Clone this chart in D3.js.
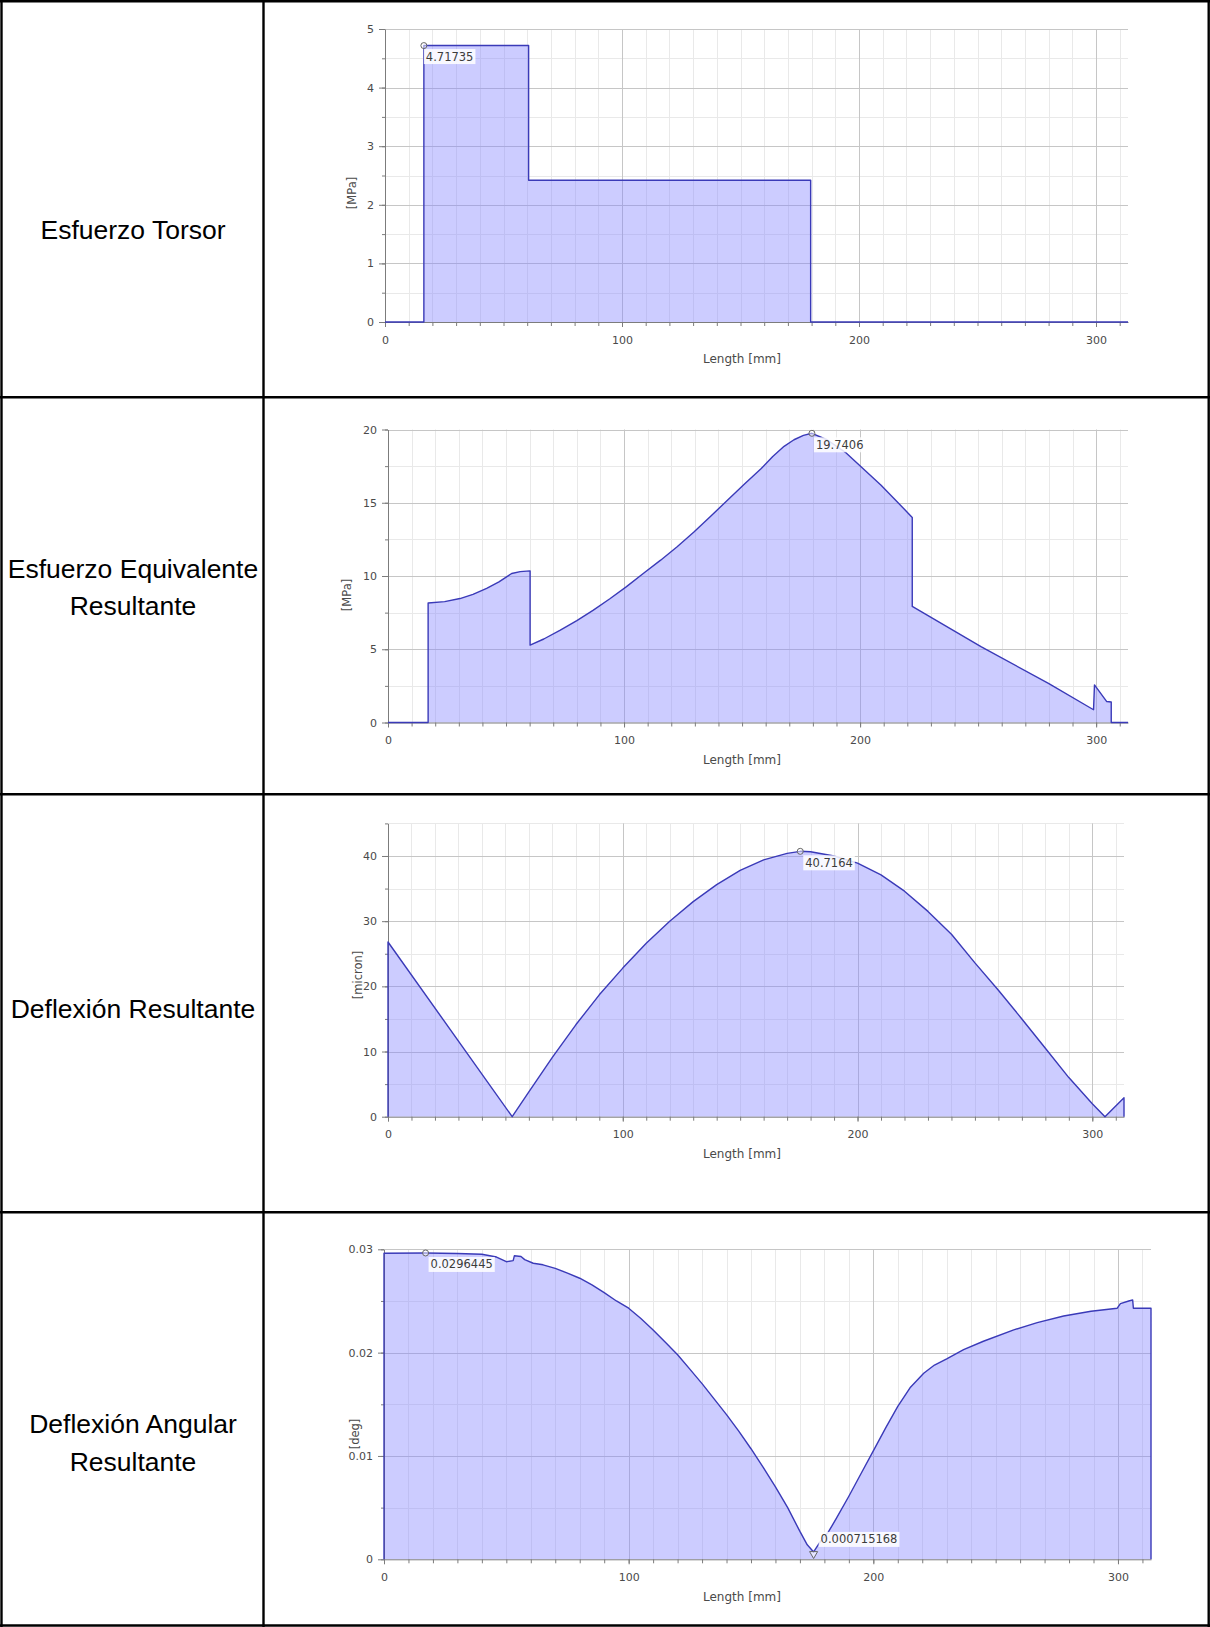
<!DOCTYPE html>
<html>
<head>
<meta charset="utf-8">
<script src="https://cdn.jsdelivr.net/npm/d3@7"></script>
<style>
  html, body { margin: 0; padding: 0; background: #fff; }
  svg { display: block; }
</style>
</head>
<body>
<svg id="c" width="1210" height="1627"></svg>
<script>
// ---------------- DATA ----------------
const rowLabels = [
  ["Esfuerzo Torsor"],
  ["Esfuerzo Equivalente", "Resultante"],
  ["Deflexión Resultante"],
  ["Deflexión Angular", "Resultante"]
];

const X_MAX = 313.5;
const xTicks = [0, 100, 200, 300];
const xTickLabels = ["0", "100", "200", "300"];
const xTitle = "Length [mm]";

// 1) Esfuerzo Torsor [MPa]
const torsorX = [0, 16.4, 16.4, 60.6, 60.6, 179.6, 179.6, 313.5];
const torsorY = [0, 0, 4.71735, 4.71735, 2.42, 2.42, 0, 0];
const torsorTicks = [0, 1, 2, 3, 4, 5];
const torsorTickLabels = ["0", "1", "2", "3", "4", "5"];
const torsorMarks = [{ x: 16.4, y: 4.71735, label: "4.71735", kind: "max" }];

// 2) Esfuerzo Equivalente Resultante [MPa]
const equivX = [0, 17, 17, 24, 30.5, 36, 41.8, 47, 52.4, 56, 60.2, 60.2, 66, 73, 80, 87, 94, 100.9, 108,
  115.5, 122.5, 129.6, 136.7, 143.8, 150.8, 157.9, 163, 167.8, 172, 176, 179.6, 186, 194.1, 208.9, 222.1,
  222.1, 251.4, 279.8, 298.9, 299.3, 304.5, 306.4, 306.4, 313.5];
const equivY = [0, 0, 8.16, 8.25, 8.46, 8.75, 9.15, 9.6, 10.17, 10.3, 10.35, 5.28, 5.7, 6.3, 6.95, 7.67,
  8.45, 9.26, 10.15, 11.08, 12.0, 13.0, 14.08, 15.17, 16.25, 17.3, 18.15, 18.85, 19.3, 19.6, 19.7406,
  19.3, 18.4, 16.2, 14.0, 7.92, 5.16, 2.67, 0.87, 2.57, 1.43, 1.4, 0, 0];
const equivTicks = [0, 5, 10, 15, 20];
const equivTickLabels = ["0", "5", "10", "15", "20"];
const equivMarks = [{ x: 179.6, y: 19.7406, label: "19.7406", kind: "max" }];

// 3) Deflexión Resultante [micron]
const deflX = [0, 0, 52.9, 60, 70, 80, 90, 100, 110, 120, 130, 140, 150, 160, 170, 175.6, 180, 190, 200,
  210, 220, 230, 240, 250, 260, 270, 280, 290, 300, 305.4, 313.5, 313.5];
const deflY = [0, 26.8, 0, 3.8, 9.1, 14.1, 18.7, 22.8, 26.6, 30.0, 33.0, 35.6, 37.8, 39.4, 40.4, 40.7164,
  40.65, 40.0, 38.9, 37.1, 34.6, 31.5, 28.0, 23.6, 19.4, 15.0, 10.5, 6.0, 2.0, 0, 2.9, 0];
const deflTicks = [0, 10, 20, 30, 40];
const deflTickLabels = ["0", "10", "20", "30", "40"];
const deflMarks = [{ x: 175.6, y: 40.7164, label: "40.7164", kind: "max" }];

// 4) Deflexión Angular Resultante [deg]
const angX = [0, 0, 17, 30, 40, 46, 50, 52.8, 53.3, 56, 57.5, 61, 65, 70, 75, 80, 85, 90, 95, 100, 105,
  110, 115, 120, 125, 130, 135, 140, 145, 150, 155, 160, 165, 170, 173, 175.6, 178, 181.7, 185, 190, 195,
  200, 205, 210, 215, 220.6, 225, 230, 236.9, 245, 257.4, 267, 277.8, 289, 299.7, 301, 304.4, 306, 306.3,
  313.5, 313.5];
const angY = [0, 0.02962, 0.0296445, 0.0296, 0.02952, 0.02925, 0.0288, 0.0289, 0.02938, 0.0293, 0.0290,
  0.02865, 0.0285, 0.02815, 0.0277, 0.0272, 0.02655, 0.0258, 0.0250, 0.0243, 0.0233, 0.0222, 0.0210,
  0.0198, 0.0184, 0.0170, 0.0155, 0.0140, 0.0124, 0.0107, 0.0089, 0.0070, 0.0050, 0.0027, 0.0014,
  0.000715168, 0.0016, 0.00267, 0.0040, 0.0061, 0.0083, 0.0105, 0.0127, 0.0148, 0.0166, 0.0180, 0.0188,
  0.0194, 0.0203, 0.0211, 0.0222, 0.0229, 0.02355, 0.0240, 0.0243, 0.02475, 0.0250, 0.0251, 0.0243,
  0.0243, 0];
const angTicks = [0, 0.01, 0.02, 0.03];
const angTickLabels = ["0", "0.01", "0.02", "0.03"];
const angMarks = [
  { x: 17, y: 0.0296445, label: "0.0296445", kind: "max" },
  { x: 175.6, y: 0.000715168, label: "0.000715168", kind: "min" }
];

// ---------------- LAYOUT ----------------
const svg = d3.select("#c");
svg.append("rect").attr("width", 1210).attr("height", 1627).attr("fill", "#fff");

const FILL = "rgba(128,128,255,0.40)";
const LINE = "#3a3ab8";
const GRID_MAJOR = "#c6c6c6";
const GRID_MINOR = "#e9e9e9";
const AXIS = "#7c7c7c";
const TXT = "#4a4a4a";
const FONT = "DejaVu Sans, Verdana, sans-serif";

const charts = [
  { xs: torsorX, ys: torsorY, yMax: 5, yTicks: torsorTicks, yLabels: torsorTickLabels, yTitle: "[MPa]",
    marks: torsorMarks, left: 385, right: 1128, top: 29, bottom: 322,
    yTitleX: 352, yTitleY: 193, markOff: [[0, 4.5]] },
  { xs: equivX, ys: equivY, yMax: 20, yTicks: equivTicks, yLabels: equivTickLabels, yTitle: "[MPa]",
    marks: equivMarks, left: 388, right: 1128, top: 429.5, bottom: 722.5,
    yTitleX: 347, yTitleY: 595, markOff: [[2, 5]] },
  { xs: deflX, ys: deflY, yMax: 45, yTicks: deflTicks, yLabels: deflTickLabels, yTitle: "[micron]",
    marks: deflMarks, left: 388, right: 1124, top: 823.4, bottom: 1116.7,
    yTitleX: 358, yTitleY: 975, markOff: [[3, 5]] },
  { xs: angX, ys: angY, yMax: 0.03, yTicks: angTicks, yLabels: angTickLabels, yTitle: "[deg]",
    marks: angMarks, left: 384, right: 1151, top: 1249.3, bottom: 1559.3,
    yTitleX: 355, yTitleY: 1434, markOff: [[3, 5], [5, -19]] }
];

function drawChart(c) {
  const x = d3.scaleLinear().domain([0, X_MAX]).range([c.left, c.right]);
  const y = d3.scaleLinear().domain([0, c.yMax]).range([c.bottom, c.top]);
  const g = svg.append("g");
  const yStep = c.yTicks[1] - c.yTicks[0];
  const xMinorVals = d3.range(0, X_MAX, 10);
  const yHalf = d3.range(0, c.yMax + yStep * 1e-6, yStep / 2);

  // minor grid
  g.append("g").selectAll("line").data(xMinorVals.filter(v => v % 100 !== 0)).join("line")
    .attr("x1", d => Math.round(x(d)) + 0.5).attr("x2", d => Math.round(x(d)) + 0.5)
    .attr("y1", c.top).attr("y2", c.bottom).attr("stroke", GRID_MINOR);
  g.append("g").selectAll("line").data(yHalf.filter(v => !c.yTicks.some(t => Math.abs(t - v) < yStep * 1e-6))).join("line")
    .attr("x1", c.left).attr("x2", c.right)
    .attr("y1", d => Math.round(y(d)) + 0.5).attr("y2", d => Math.round(y(d)) + 0.5).attr("stroke", GRID_MINOR);
  // major grid
  g.append("g").selectAll("line").data(xTicks.filter(v => v > 0)).join("line")
    .attr("x1", d => Math.round(x(d)) + 0.5).attr("x2", d => Math.round(x(d)) + 0.5)
    .attr("y1", c.top).attr("y2", c.bottom).attr("stroke", GRID_MAJOR);
  g.append("g").selectAll("line").data(c.yTicks.filter(v => v > 0)).join("line")
    .attr("x1", c.left).attr("x2", c.right)
    .attr("y1", d => Math.round(y(d)) + 0.5).attr("y2", d => Math.round(y(d)) + 0.5).attr("stroke", GRID_MAJOR);

  const pts = c.xs.map((v, i) => [v, c.ys[i]]);
  g.append("path").datum(pts)
    .attr("d", d3.area().x(d => x(d[0])).y0(y(0)).y1(d => y(d[1])))
    .attr("fill", FILL);

  // axes
  const yAxis = g.append("g").attr("transform", `translate(${c.left},0)`)
    .call(d3.axisLeft(y).tickValues(c.yTicks).tickFormat((d, i) => c.yLabels[i])
      .tickSize(6).tickPadding(5).tickSizeOuter(0));
  const yMinorAxis = g.append("g").attr("transform", `translate(${c.left},0)`)
    .call(d3.axisLeft(y).tickValues(yHalf).tickFormat("").tickSize(3).tickSizeOuter(0));
  yMinorAxis.select(".domain").remove();
  const xAxis = g.append("g").attr("transform", `translate(0,${c.bottom})`)
    .call(d3.axisBottom(x).tickValues(xTicks).tickFormat((d, i) => xTickLabels[i])
      .tickSize(5).tickPadding(9).tickSizeOuter(0));
  const xMinorAxis = g.append("g").attr("transform", `translate(0,${c.bottom})`)
    .call(d3.axisBottom(x).tickValues(xMinorVals).tickFormat("").tickSize(4).tickSizeOuter(0));
  xMinorAxis.select(".domain").remove();
  [yAxis, yMinorAxis, xAxis, xMinorAxis].forEach(a => {
    a.attr("font-family", FONT).attr("font-size", 11);
    a.selectAll("path,line").attr("stroke", AXIS);
    a.selectAll("text").attr("fill", TXT);
  });

  // data line
  g.append("path").datum(pts)
    .attr("d", d3.line().x(d => x(d[0])).y(d => y(d[1])))
    .attr("fill", "none").attr("stroke", LINE).attr("stroke-width", 1.4)
    .attr("stroke-linejoin", "round");

  // titles
  g.append("text").attr("x", 742).attr("y", c.bottom + 37).attr("dy", "0.35em")
    .attr("text-anchor", "middle").attr("font-family", FONT).attr("font-size", 12)
    .attr("fill", TXT).text(xTitle);
  g.append("text").attr("transform", `translate(${c.yTitleX},${c.yTitleY}) rotate(-90)`)
    .attr("dy", "0.35em").attr("text-anchor", "middle").attr("font-family", FONT)
    .attr("font-size", 11.5).attr("fill", TXT).text(c.yTitle);

  // markers + labels
  c.marks.forEach((m, i) => {
    const mx = x(m.x), my = y(m.y);
    const [dx, dy] = c.markOff[i];
    const lg = g.append("g");
    const t = lg.append("text").attr("x", mx + dx + 2).attr("y", my + dy + 10.5)
      .attr("font-family", FONT).attr("font-size", 11.5).attr("fill", "#3c3c3c").text(m.label);
    const w = t.node().getComputedTextLength();
    lg.insert("rect", "text").attr("x", mx + dx).attr("y", my + dy - 1)
      .attr("width", w + 4).attr("height", 15).attr("fill", "#fff").attr("fill-opacity", 0.85);
    if (m.kind === "max") {
      g.append("circle").attr("cx", mx).attr("cy", my).attr("r", 3)
        .attr("fill", "#fff").attr("fill-opacity", 0.5).attr("stroke", "#666").attr("stroke-width", 1);
    } else {
      g.append("path").attr("transform", `translate(${mx},${my + 2}) rotate(180)`)
        .attr("d", d3.symbol(d3.symbolTriangle, 28)())
        .attr("fill", "#fff").attr("fill-opacity", 0.5).attr("stroke", "#666").attr("stroke-width", 1);
    }
  });
}

charts.forEach(drawChart);

// ---------------- TABLE ----------------
const labelBaselines = [[238.5], [578.3, 615], [1018], [1433, 1471]];
rowLabels.forEach((lines, r) => {
  lines.forEach((txt, k) => {
    svg.append("text").attr("x", 133).attr("y", labelBaselines[r][k])
      .attr("text-anchor", "middle").attr("font-family", "Liberation Sans, Arial, sans-serif")
      .attr("font-size", 26.5).attr("fill", "#000").text(txt);
  });
});

const hLines = [1.3, 397.3, 794.3, 1212.3, 1625.5];
const vLines = [1.5, 263.5, 1208.7];
svg.append("g").selectAll("line").data(hLines).join("line")
  .attr("x1", 0).attr("x2", 1210).attr("y1", d => d).attr("y2", d => d)
  .attr("stroke", "#000").attr("stroke-width", 2.4);
svg.append("g").selectAll("line").data(vLines).join("line")
  .attr("x1", d => d).attr("x2", d => d).attr("y1", 0).attr("y2", 1627)
  .attr("stroke", "#000").attr("stroke-width", 2.4);
</script>
</body>
</html>
